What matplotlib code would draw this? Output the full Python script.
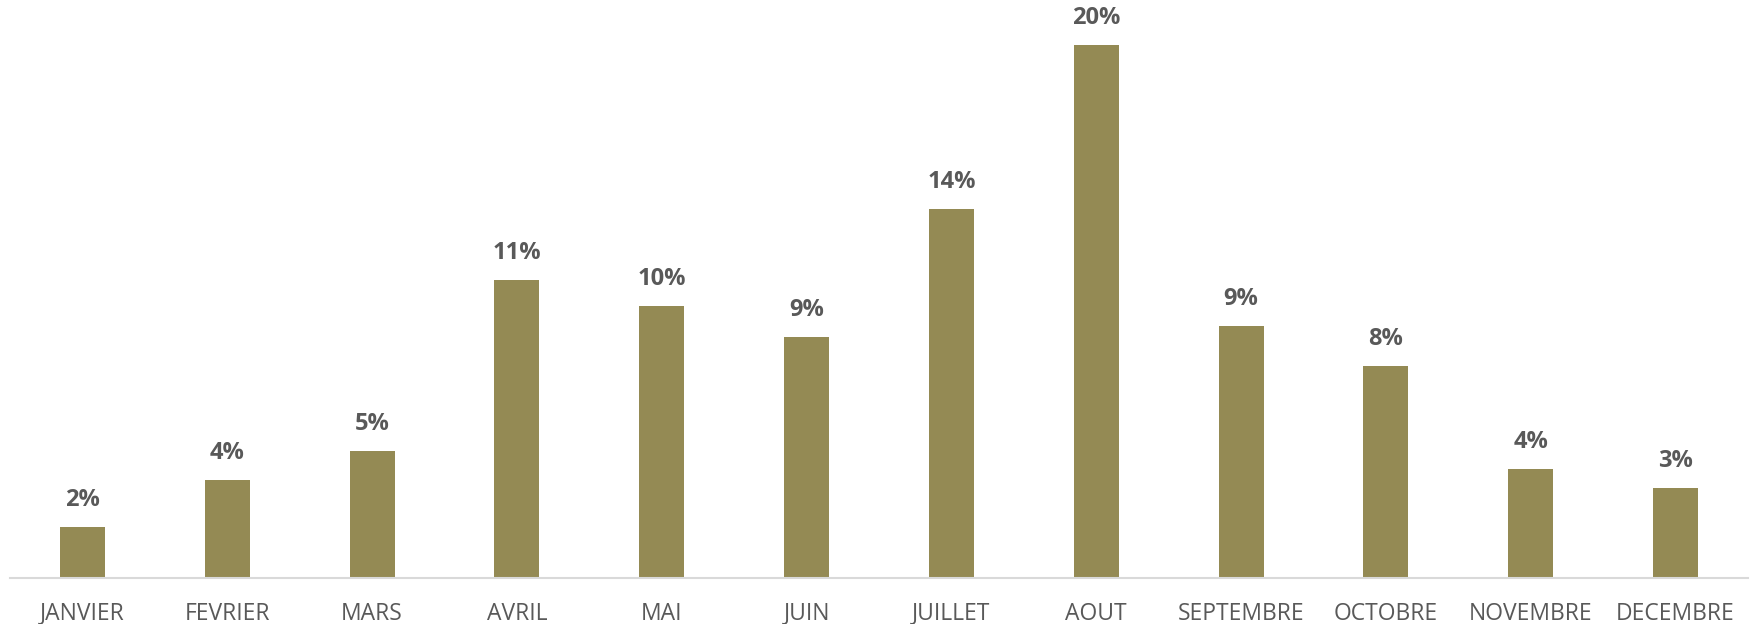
import matplotlib.pyplot as plt

# données mensuelles (part en %)
mois = ['JANVIER', 'FEVRIER', 'MARS', 'AVRIL', 'MAI', 'JUIN', 'JUILLET',
        'AOUT', 'SEPTEMBRE', 'OCTOBRE', 'NOVEMBRE', 'DECEMBRE']
parts = [1.91, 3.68, 4.77, 11.17, 10.2, 9.03, 13.85, 20.0, 9.45, 7.94, 4.09, 3.38]
etiquettes = ['2%', '4%', '5%', '11%', '10%', '9%', '14%', '20%', '9%', '8%', '4%', '3%']

plt.rcParams['font.family'] = ['Open Sans', 'DejaVu Sans']

fig = plt.figure(figsize=(17.52, 6.24), dpi=100)
ax = fig.add_axes([10 / 1752, 46 / 624, 1738 / 1752, 578 / 624])

x = range(len(mois))
ax.bar(x, parts, width=0.31, color='#948A54', zorder=2)

for i, (v, lab) in enumerate(zip(parts, etiquettes)):
    ax.annotate(lab, xy=(i, v), xytext=(0, 19.5), textcoords='offset points',
                ha='center', va='center', fontsize=17, fontweight='bold', color='#595959')

ax.set_xlim(-0.5, 11.5)
ax.set_ylim(0, 21.69)
ax.set_xticks(list(x))
ax.set_xticklabels(mois, fontsize=16.5, color='#595959')
ax.tick_params(axis='x', length=0, pad=17)
ax.set_yticks([])

for s in ['top', 'right', 'left']:
    ax.spines[s].set_visible(False)
ax.spines['bottom'].set_color('#D9D9D9')
ax.spines['bottom'].set_linewidth(1.5)

fig.savefig('out.png', dpi=100)
